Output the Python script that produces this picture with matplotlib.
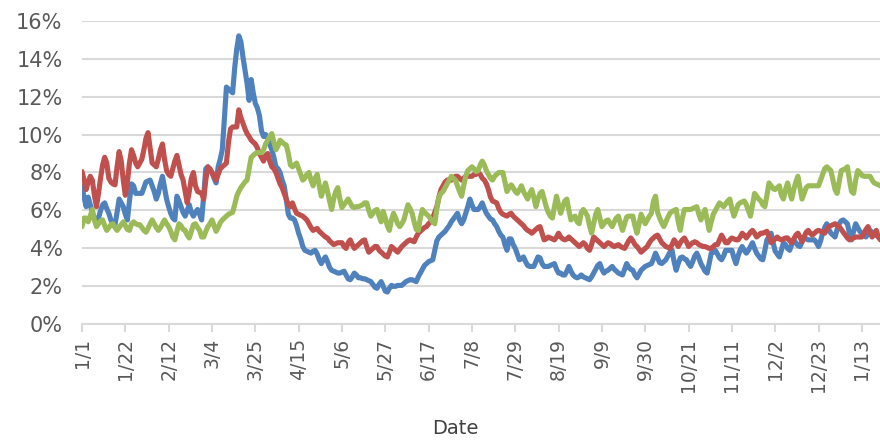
import matplotlib
matplotlib.use("Agg")
import matplotlib.pyplot as plt
import pandas as pd
import numpy as np

start_date = "2020-01-01"

blue_vals = [
7.25,6.7,6.2,6.7,6.3,5.9,5.6,5.5,5.6,6.0,6.3,6.4,6.1,5.85,5.5,5.3,5.25,5.9,6.6,6.4,
6.2,5.8,5.5,6.5,7.4,7.3,6.9,6.9,6.9,6.9,7.2,7.5,7.55,7.6,7.3,7.0,6.6,6.9,7.4,7.8,
7.2,6.6,6.2,5.85,5.6,5.5,6.75,6.5,6.2,5.9,5.7,6.0,6.3,5.9,5.7,5.9,6.05,5.8,5.5,6.8,
8.2,8.3,8.1,8.0,7.7,7.45,8.3,8.7,9.2,10.8,12.5,12.4,12.3,12.2,13.5,14.5,15.2,14.9,14.1,13.4,
12.7,11.8,12.9,12.2,11.65,11.4,11.0,10.2,9.9,10.0,9.8,9.5,9.2,8.8,8.3,8.2,8.0,7.6,7.3,6.6,
5.8,5.6,5.6,5.5,5.2,4.8,4.5,4.1,3.9,3.85,3.8,3.75,3.85,3.9,3.7,3.4,3.2,3.4,3.55,3.3,
3.0,2.85,2.8,2.75,2.7,2.7,2.75,2.8,2.6,2.4,2.35,2.5,2.7,2.6,2.45,2.45,2.4,2.4,2.35,2.3,
2.25,2.1,1.95,1.9,2.1,2.25,2.0,1.75,1.7,1.9,2.05,2.0,2.0,2.05,2.05,2.05,2.15,2.25,2.3,2.35,
2.35,2.3,2.25,2.5,2.7,2.9,3.1,3.2,3.3,3.35,3.4,3.9,4.4,4.6,4.7,4.8,4.9,5.05,5.2,5.4,
5.55,5.7,5.85,5.5,5.3,5.5,5.85,6.2,6.6,6.3,6.05,6.05,6.05,6.2,6.4,6.1,5.85,5.7,5.55,5.5,
5.3,5.15,4.9,4.7,4.6,4.2,3.9,4.5,4.5,4.2,4.0,3.7,3.4,3.45,3.55,3.3,3.1,3.05,3.05,3.05,
3.3,3.55,3.5,3.2,3.05,3.05,3.05,3.1,3.15,3.2,2.9,2.7,2.7,2.6,2.6,2.8,3.05,2.8,2.6,2.5,
2.45,2.5,2.6,2.5,2.45,2.4,2.35,2.5,2.7,2.9,3.1,3.2,2.9,2.7,2.8,2.85,2.95,3.05,2.9,2.8,
2.7,2.65,2.6,2.9,3.2,3.0,2.9,2.85,2.6,2.45,2.65,2.85,2.95,3.05,3.1,3.15,3.2,3.45,3.75,3.5,
3.25,3.2,3.3,3.4,3.6,3.8,3.9,3.3,2.85,3.2,3.5,3.55,3.45,3.4,3.2,3.05,3.3,3.6,3.75,3.5,
3.2,3.0,2.8,2.7,3.2,3.75,3.8,3.9,3.7,3.5,3.4,3.6,3.9,3.9,3.9,3.9,3.5,3.2,3.6,3.9,
4.1,3.9,3.75,3.9,4.1,4.3,4.0,3.75,3.6,3.45,3.4,3.9,4.45,4.6,4.8,4.3,3.85,3.7,3.55,3.9,
4.3,4.2,4.0,3.9,4.2,4.45,4.3,4.15,4.1,4.35,4.6,4.5,4.45,4.45,4.45,4.45,4.3,4.1,4.4,4.8,
5.1,5.3,5.0,4.8,4.7,4.6,5.0,5.3,5.45,5.5,5.4,5.3,4.8,4.45,4.9,5.3,5.1,4.9,4.8,4.7,
4.6,4.8,4.95,4.85,4.8,4.7,4.6,4.6]

red_vals = [
8.05,7.6,7.1,7.5,7.8,7.6,6.8,6.2,6.9,7.7,8.4,8.8,8.5,7.7,7.5,7.4,7.35,8.3,9.1,8.6,
7.6,6.8,7.5,8.5,9.2,8.9,8.5,8.3,8.5,8.7,9.2,9.8,10.1,9.3,8.5,8.4,8.3,8.7,9.2,9.5,
8.7,8.1,7.9,7.8,8.2,8.6,8.9,8.4,7.9,7.6,7.0,6.4,7.0,7.7,8.0,7.3,7.0,6.95,6.9,6.6,
7.6,8.3,8.2,8.0,7.8,7.6,7.9,8.2,8.3,8.4,8.5,9.6,10.3,10.4,10.4,10.4,11.3,10.9,10.6,10.3,
10.05,9.9,9.7,9.6,9.5,9.3,9.0,8.8,8.6,8.9,9.0,8.6,8.3,8.2,8.0,7.7,7.4,7.2,6.9,6.6,
6.3,6.2,6.4,6.1,5.85,5.8,5.75,5.7,5.6,5.5,5.3,5.1,4.95,5.0,5.05,4.9,4.8,4.7,4.6,4.55,
4.4,4.3,4.2,4.25,4.3,4.3,4.3,4.1,4.0,4.3,4.45,4.2,4.0,4.1,4.2,4.3,4.4,4.45,4.1,3.8,
3.9,4.0,4.1,4.1,3.9,3.8,3.7,3.6,3.55,3.8,4.1,4.0,3.9,3.8,3.95,4.1,4.2,4.3,4.4,4.45,
4.4,4.35,4.6,4.8,4.9,5.0,5.1,5.15,5.3,5.4,5.6,5.9,6.2,6.7,7.1,7.3,7.5,7.6,7.6,7.6,
7.7,7.8,7.8,7.7,7.6,7.7,7.8,7.8,7.8,7.8,7.9,7.9,8.0,7.9,7.7,7.6,7.4,7.1,6.7,6.5,
6.45,6.4,6.1,5.9,5.8,5.75,5.7,5.8,5.85,5.7,5.6,5.5,5.4,5.3,5.2,5.05,4.95,4.9,4.8,4.9,
5.0,5.1,5.15,4.8,4.45,4.5,4.6,4.55,4.5,4.45,4.6,4.8,4.6,4.5,4.45,4.5,4.6,4.5,4.4,4.3,
4.2,4.1,4.2,4.3,4.2,4.0,3.9,4.2,4.6,4.5,4.4,4.3,4.2,4.1,4.2,4.3,4.25,4.15,4.1,4.15,
4.2,4.1,4.05,4.0,4.2,4.4,4.55,4.4,4.2,4.1,3.95,3.8,3.9,4.0,4.1,4.3,4.45,4.55,4.65,4.7,
4.5,4.3,4.2,4.1,4.05,4.0,4.2,4.45,4.3,4.1,4.3,4.45,4.55,4.35,4.1,4.2,4.3,4.35,4.3,4.2,
4.15,4.1,4.1,4.05,4.0,4.0,4.1,4.2,4.2,4.45,4.7,4.5,4.3,4.3,4.45,4.55,4.5,4.45,4.45,4.6,
4.8,4.7,4.55,4.7,4.85,4.95,4.8,4.6,4.7,4.8,4.8,4.85,4.9,4.6,4.3,4.4,4.5,4.6,4.5,4.45,
4.5,4.55,4.55,4.4,4.3,4.5,4.7,4.8,4.6,4.35,4.6,4.85,4.95,4.8,4.7,4.8,4.9,4.95,4.9,4.85,
4.8,5.0,5.15,5.2,5.25,5.3,5.2,5.15,5.0,4.85,4.7,4.55,4.45,4.5,4.55,4.6,4.6,4.6,4.6,4.8,
5.0,5.15,4.8,4.6,4.8,4.95,4.6,4.45]

green_vals = [
5.15,5.6,5.6,5.4,5.7,6.05,5.5,5.15,5.3,5.45,5.5,5.2,4.95,5.1,5.25,5.3,5.1,4.95,5.1,5.25,
5.4,5.2,5.0,4.95,5.3,5.4,5.3,5.25,5.25,5.1,4.95,4.85,5.05,5.3,5.5,5.3,5.1,4.95,5.1,5.3,
5.5,5.3,5.15,4.9,4.6,4.45,4.9,5.3,5.2,5.0,4.95,4.7,4.55,4.9,5.25,5.3,5.1,4.95,4.6,4.6,
4.9,5.15,5.3,5.5,5.2,4.9,5.1,5.35,5.5,5.6,5.7,5.8,5.85,5.9,6.3,6.75,7.0,7.2,7.35,7.5,
7.6,8.2,8.8,8.9,9.0,9.05,9.05,9.05,9.2,9.5,9.7,9.9,10.05,9.6,9.2,9.4,9.7,9.6,9.5,9.45,
9.0,8.4,8.3,8.4,8.5,8.2,7.9,7.6,7.7,7.9,8.0,7.6,7.3,7.7,7.9,7.3,6.75,7.1,7.45,7.0,
6.5,6.05,6.6,7.0,7.2,6.6,6.15,6.3,6.45,6.6,6.4,6.2,6.15,6.2,6.2,6.25,6.3,6.4,6.4,6.0,
5.7,5.85,6.0,6.05,5.7,5.4,5.95,5.6,5.2,4.95,5.5,5.85,5.6,5.3,5.15,5.3,5.5,5.9,6.3,6.1,
5.85,5.4,5.0,4.95,5.6,6.05,5.9,5.8,5.7,5.55,5.4,5.3,6.1,6.7,6.9,7.0,7.2,7.4,7.6,7.8,
7.7,7.6,7.3,7.0,6.75,7.3,7.8,8.1,8.2,8.3,8.2,8.05,8.1,8.4,8.6,8.4,8.1,7.9,7.7,7.6,
7.8,7.9,8.0,8.0,8.0,7.5,7.0,7.2,7.35,7.2,7.0,6.9,7.1,7.3,7.0,6.8,6.6,6.9,7.1,6.7,
6.2,6.6,6.9,7.0,6.6,6.2,5.9,5.7,5.6,6.2,6.75,6.3,5.85,6.2,6.5,6.6,6.0,5.5,5.6,5.7,
5.4,5.3,5.9,6.05,5.9,5.7,5.2,4.8,5.3,5.8,6.05,5.6,5.15,5.3,5.45,5.5,5.3,5.15,5.4,5.6,
5.7,5.3,4.95,5.3,5.65,5.7,5.7,5.7,5.2,4.8,5.3,5.8,5.55,5.3,5.5,5.7,5.85,6.5,6.75,5.9,
5.6,5.35,5.15,5.4,5.65,5.85,5.95,6.0,6.05,5.4,4.95,5.6,6.05,6.05,6.05,6.05,6.1,6.15,6.2,5.8,
5.5,5.8,6.05,5.5,4.95,5.4,5.8,6.0,6.2,6.4,6.3,6.2,6.35,6.5,6.6,6.1,5.7,6.0,6.3,6.4,
6.45,6.5,6.3,6.0,5.7,6.3,6.9,6.75,6.6,6.5,6.3,6.2,6.8,7.45,7.3,7.15,7.1,7.2,7.3,6.8,
6.6,7.1,7.45,7.0,6.6,7.1,7.5,7.8,7.2,6.6,6.9,7.2,7.3,7.3,7.3,7.3,7.3,7.3,7.6,7.9,
8.2,8.3,8.2,8.1,7.6,7.1,6.9,7.5,8.1,8.15,8.2,8.3,7.6,7.0,6.9,7.6,8.1,8.0,7.85,7.8,
7.8,7.8,7.8,7.6,7.45,7.4,7.35,7.3]

tick_labels = ["1/1", "1/22", "2/12", "3/4", "3/25", "4/15", "5/6", "5/27", "6/17",
               "7/8", "7/29", "8/19", "9/9", "9/30", "10/21", "11/11", "12/2", "12/23", "1/13"]
y_ticks = [0, 0.02, 0.04, 0.06, 0.08, 0.10, 0.12, 0.14, 0.16]
y_tick_labels = ["0%", "2%", "4%", "6%", "8%", "10%", "12%", "14%", "16%"]

series = [
    ("blue", blue_vals, "#4F81BD"),
    ("red", red_vals, "#C0504D"),
    ("green", green_vals, "#9BBB59"),
]

fig = plt.figure(figsize=(8.8, 4.4), dpi=100)
ax = fig.add_axes([82/880, 1 - 324.3/440, 1 - 82/880, (324.3 - 20.7)/440])

for name, vals, col in series:
    dates = pd.date_range(start_date, periods=len(vals), freq="D")
    ax.plot(dates, np.array(vals) / 100.0, color=col, lw=3.7,
            solid_joinstyle="round", solid_capstyle="round", zorder=3)

d0 = pd.Timestamp(start_date)
tick_dates = [d0 + pd.Timedelta(days=21 * i) for i in range(len(tick_labels))]
ax.set_xticks(tick_dates)
ax.set_xticklabels(tick_labels, rotation=90, fontsize=13.5, color="#595959",
                   family=["DejaVu Sans"])
ax.set_xlim(d0, d0 + pd.Timedelta(days=386.8))

ax.set_ylim(0, 0.16)
ax.set_yticks(y_ticks)
ax.set_yticklabels(y_tick_labels, fontsize=15, color="#595959")
ax.grid(axis="y", color="#D9D9D9", lw=1.5, zorder=0)
ax.set_axisbelow(True)

for s in ["top", "right", "left"]:
    ax.spines[s].set_visible(False)
ax.spines["bottom"].set_color("#D9D9D9")
ax.spines["bottom"].set_linewidth(1.5)
ax.tick_params(axis="x", length=6, width=1.5, color="#D9D9D9", pad=4)
ax.tick_params(axis="y", length=0, pad=14)

fig.text(455/880, 1 - 428/440, "Date", ha="center", va="center", fontsize=14,
         color="#404040", family=["Liberation Sans Narrow", "DejaVu Sans"])

fig.savefig("out.png", dpi=100)
